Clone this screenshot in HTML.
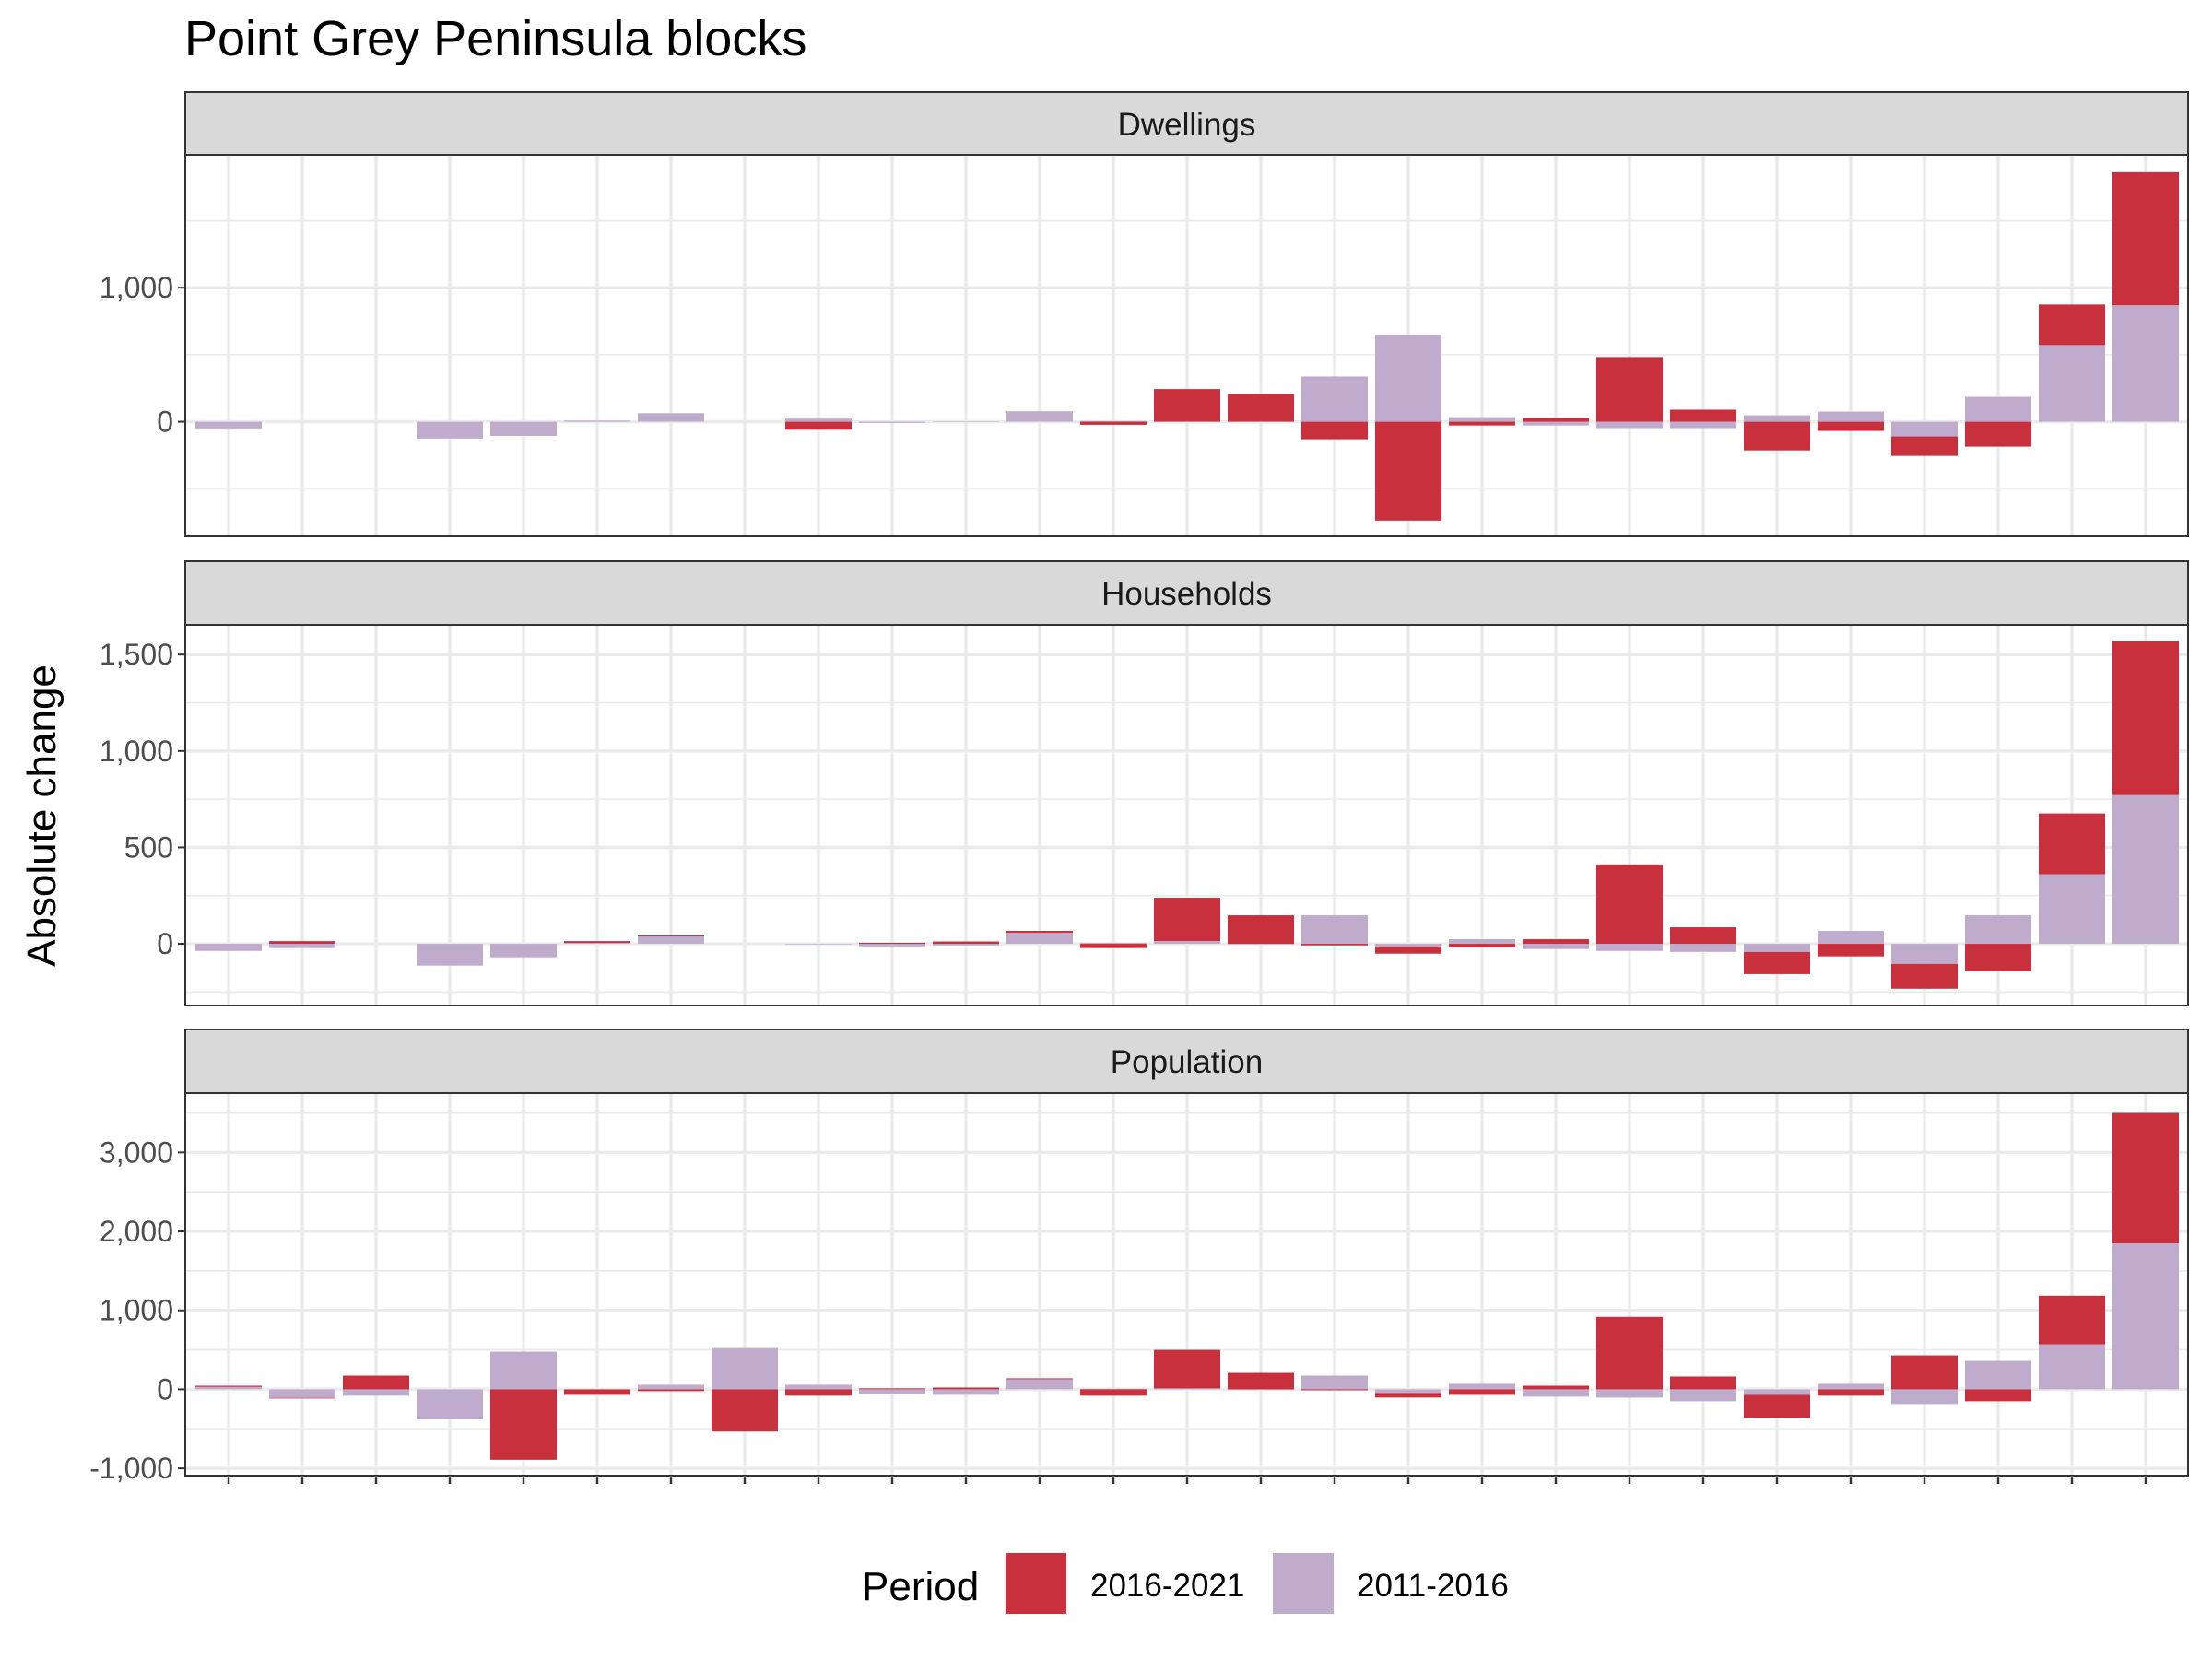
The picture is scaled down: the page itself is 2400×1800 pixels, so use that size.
<!DOCTYPE html>
<html><head><meta charset="utf-8"><style>
html,body{margin:0;padding:0;background:#fff;}
svg{display:block;font-family:"Liberation Sans",Arial,sans-serif;}
</style></head><body>
<svg id="chart" width="2400" height="1800" viewBox="0 0 2400 1800" xmlns="http://www.w3.org/2000/svg">
<rect x="0" y="0" width="2400" height="1800" fill="#fff"/>
<text x="200" y="60" font-size="54" fill="#000">Point Grey Peninsula blocks</text>
<text transform="translate(60,885) rotate(-90)" text-anchor="middle" font-size="44" fill="#000">Absolute change</text>
<g id="panels"></g>
<g id="legend">
<text x="935" y="1736" font-size="44" fill="#000">Period</text>
<rect x="1091" y="1685" width="66" height="66" fill="#C9303E"/>
<text x="1183" y="1732" font-size="35" fill="#000">2016-2021</text>
<rect x="1381" y="1685" width="66" height="66" fill="#BFACCD"/>
<text x="1472" y="1732" font-size="35" fill="#000">2011-2016</text>
</g>
</svg>
<script>
const categories = Array.from({length:27},(_, i)=>'block-'+(i+1));
const panelNames = ['Dwellings','Households','Population'];
const dwellings2011 = [-50,0,0,-126,-106,9,64,0,23,-9,3,78,5,0,0,338,648,34,-28,-48,-48,48,76,-110,186,572,869];
const dwellings2016 = [0,0,0,0,0,0,0,0,-60,0,0,0,-23,244,207,-131,-738,-28,28,483,90,-214,-69,-145,-186,303,993];
const households2011 = [-37,-22,0,-113,-70,5,38,0,-3,-13,-8,57,5,14,-3,148,-13,24,-27,-37,-42,-42,67,-104,148,361,771];
const households2016 = [0,14,0,0,0,9,5,0,0,5,12,10,-22,225,148,-8,-38,-18,24,412,86,-115,-65,-129,-142,315,800];
const population2011 = [31,-108,-81,-380,477,0,58,523,58,-58,-70,128,8,12,-5,174,-46,70,-93,-105,-151,-70,70,-186,360,570,1849];
const population2016 = [15,-8,174,0,-892,-70,-23,-535,-81,12,23,12,-81,488,209,-12,-58,-70,46,918,163,-290,-81,430,-151,616,1651];
const dwellingTicks = [0,1000];
const householdTicks = [0,500,1000,1500];
const populationTicks = [-1000,0,1000,2000,3000];

const NS='http://www.w3.org/2000/svg';
const RED='#C9303E', PURPLE='#BFACCD';
const X0=201, X1=2374;
const panels=[
 {name:'Dwellings', key:'dwellings', s11:dwellings2011, s16:dwellings2016, ticks:dwellingTicks, minor:[-500,500,1500], stripTop:100, top:168, bottom:582, dmin:-856, dmax:1992},
 {name:'Households', key:'households', s11:households2011, s16:households2016, ticks:householdTicks, minor:[-250,250,750,1250], stripTop:609, top:678, bottom:1091, dmin:-320, dmax:1654},
 {name:'Population', key:'population', s11:population2011, s16:population2016, ticks:populationTicks, minor:[-500,500,1500,2500,3500], stripTop:1117, top:1186, bottom:1601, dmin:-1092, dmax:3751}
];
function xScale(i){ return 248 + i*(2328-248)/(categories.length-1); }
function el(tag, attrs, parent){ const e=document.createElementNS(NS,tag); for(const k in attrs) e.setAttribute(k,attrs[k]); parent.appendChild(e); return e; }
function fmt(v){ return v.toLocaleString('en-US'); }
const root=document.getElementById('panels');
panels.forEach((p, pi)=>{
  const y=v=> p.bottom - (v-p.dmin)/(p.dmax-p.dmin)*(p.bottom-p.top);
  const g=el('g',{},root);
  
  
  const strip=el('rect',{x:X0,y:p.stripTop,width:X1-X0,height:p.top-p.stripTop,fill:'#D9D9D9',stroke:'#333','stroke-width':2},g);
  
  
  const st=el('text',{x:(X0+X1)/2,y:p.stripTop+47,'text-anchor':'middle','font-size':35,fill:'#1A1A1A'},g);
  st.textContent=p.name;
  
  
  p.minor.forEach(v=>{ const yy=y(v); if(yy>p.top&&yy<p.bottom){ const l=el('line',{x1:X0,x2:X1,y1:yy,y2:yy,stroke:'#EBEBEB','stroke-width':1.8},g);
    
     }});
  p.ticks.forEach(v=>{ const yy=y(v); const l=el('line',{x1:X0,x2:X1,y1:yy,y2:yy,stroke:'#EBEBEB','stroke-width':3.5},g);
    
     });
  categories.forEach((c,i)=>{ const l=el('line',{x1:xScale(i),x2:xScale(i),y1:p.top,y2:p.bottom,stroke:'#EBEBEB','stroke-width':3.5},g);
    
     });
  const bw=72;
  categories.forEach((c,i)=>{
    let pos=0, neg=0;
    [[p.s11[i],PURPLE,'2011-2016'],[p.s16[i],RED,'2016-2021']].forEach(([v,col,lab])=>{
      if(!v) return;
      let a,b;
      if(v>0){ a=pos; b=pos+v; pos=b; } else { a=neg; b=neg+v; neg=b; }
      const ya=y(a), yb=y(b);
      const r=el('rect',{x:xScale(i)-bw/2,y:Math.min(ya,yb),width:bw,height:Math.abs(ya-yb),fill:col},g);
      
      
    });
  });
  const border=el('rect',{x:X0,y:p.top,width:X1-X0,height:p.bottom-p.top,fill:'none',stroke:'#333','stroke-width':2},g);
  
  
  p.ticks.forEach(v=>{ const yy=y(v);
    const t=el('line',{x1:X0-8,x2:X0,y1:yy,y2:yy,stroke:'#333','stroke-width':2},g);
    
    
    const tl=el('text',{x:X0-13,y:yy+11,'text-anchor':'end','font-size':32,fill:'#4D4D4D'},g);
    tl.textContent=fmt(v);
    
    
  });
  if(pi===panels.length-1){
    categories.forEach((c,i)=>{ const t=el('line',{x1:xScale(i),x2:xScale(i),y1:p.bottom,y2:p.bottom+9,stroke:'#333','stroke-width':2.5},g);
      
       });
  }
});
</script>
</body></html>
